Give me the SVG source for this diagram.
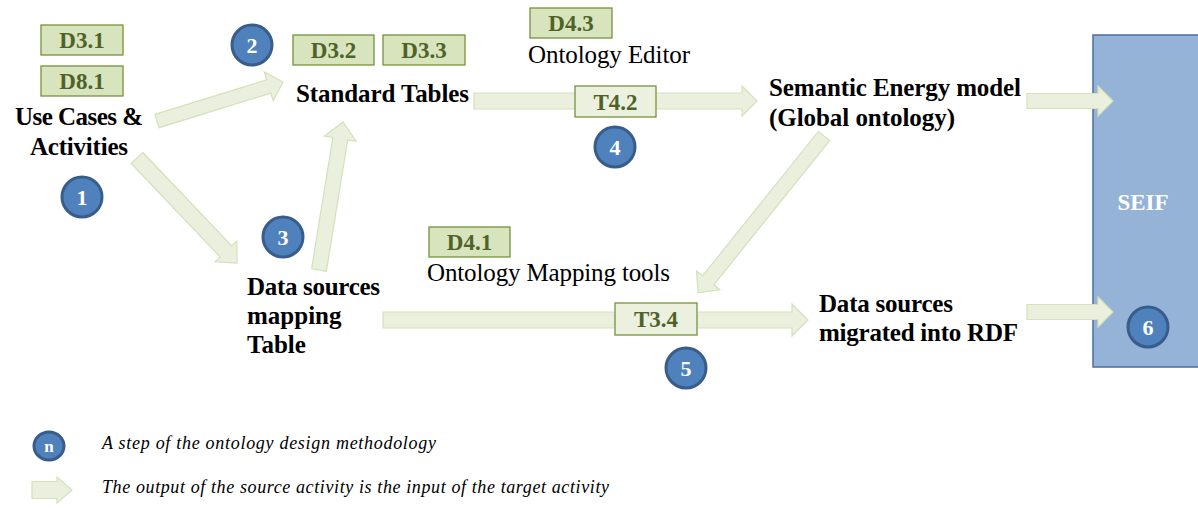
<svg xmlns="http://www.w3.org/2000/svg" width="1198" height="508" viewBox="0 0 1198 508">
<style>
.bt{font-family:'Liberation Serif','Tinos','Times New Roman','DejaVu Serif',serif;font-weight:bold;font-size:25px;fill:#000}
.rt{font-family:'Liberation Serif','Tinos','Times New Roman','DejaVu Serif',serif;font-size:25px;fill:#000}
.lb{fill:#D7E4BD;stroke:#76923C;stroke-width:1.3}
.lbl{fill:#EBF1DE;stroke:#76923C;stroke-width:1.3}
.lt{font-family:'Liberation Serif','Tinos','Times New Roman','DejaVu Serif',serif;font-weight:bold;font-size:23px;fill:#4F6228;text-anchor:middle}
.st{fill:#4F81BD;stroke:#385D8A;stroke-width:3}
.sn{font-family:'Liberation Serif','Tinos','Times New Roman','DejaVu Serif',serif;font-weight:bold;font-size:22px;fill:#fff;text-anchor:middle}
.ar{fill:#EAF0DD;stroke:#D4E1B9;stroke-width:1.2}
.it{font-family:'Liberation Serif','Tinos','Times New Roman','DejaVu Serif',serif;font-style:italic;font-size:18px;fill:#000}
.sf{font-family:'Liberation Serif','Tinos','Times New Roman','DejaVu Serif',serif;font-weight:bold;font-size:23px;fill:#fff;text-anchor:middle}
.nl{font-family:'Liberation Serif','Tinos','Times New Roman','DejaVu Serif',serif;font-weight:bold;font-size:17px;fill:#fff;text-anchor:middle}
</style>
<rect width="1198" height="508" fill="#fff"/>
<g id="seif">
<rect x="1093" y="35" width="110" height="332" fill="#95B3D7" stroke="#4A6FA0" stroke-width="1.5"/>
<text class="sf" x="1143" y="210">SEIF</text>
</g>
<g id="connectors">
<polygon class="ar" transform="translate(157,121) rotate(-17.2)" points="0,-7 117,-7 117,-15 132,0 117,15 117,7 0,7"/>
<polygon class="ar" transform="translate(137,158) rotate(46.4)" points="0,-8 129,-8 129,-15 145,0 129,15 129,8 0,8"/>
<polygon class="ar" transform="translate(319,270) rotate(-80.8)" points="0,-7.5 133,-7.5 133,-16 150,0 133,16 133,7.5 0,7.5"/>
<polygon class="ar" transform="translate(474,101)" points="0,-8 268,-8 268,-15 283,0 268,15 268,8 0,8"/>
<polygon class="ar" transform="translate(1027,101)" points="0,-7.5 71,-7.5 71,-15 86,0 71,15 71,7.5 0,7.5"/>
<polygon class="ar" transform="translate(824,136) rotate(128.75)" points="0,-7.2 185,-7.2 185,-15 201,0 185,15 185,7.2 0,7.2"/>
<polygon class="ar" transform="translate(383,320)" points="0,-8 409,-8 409,-16 425,0 409,16 409,8 0,8"/>
<polygon class="ar" transform="translate(1027,312)" points="0,-7.5 71,-7.5 71,-15 86,0 71,15 71,7.5 0,7.5"/>
</g>
<g id="use-cases">
<rect class="lb" x="41" y="25" width="82" height="30"/>
<text class="lt" x="82" y="48">D3.1</text>
<rect class="lb" x="41" y="66" width="82" height="30"/>
<text class="lt" x="82" y="89">D8.1</text>
<text class="bt" x="15" y="125" textLength="128">Use Cases &amp;</text>
<text class="bt" x="30" y="155" textLength="98">Activities</text>
<circle class="st" cx="82" cy="197" r="20"/>
<text class="sn" x="82" y="205">1</text>
</g>
<g id="standard-tables">
<circle class="st" cx="252" cy="45" r="20"/>
<text class="sn" x="252" y="53">2</text>
<rect class="lb" x="293" y="35" width="81" height="30"/>
<text class="lt" x="333.5" y="58">D3.2</text>
<rect class="lb" x="383" y="35" width="82" height="30"/>
<text class="lt" x="424" y="58">D3.3</text>
<text class="bt" x="296" y="102" textLength="173">Standard Tables</text>
</g>
<g id="data-sources-mapping">
<circle class="st" cx="283" cy="237" r="20"/>
<text class="sn" x="283" y="245">3</text>
<text class="bt" x="247" y="295" textLength="133">Data sources</text>
<text class="bt" x="247" y="324">mapping</text>
<text class="bt" x="247" y="353">Table</text>
</g>
<g id="ontology-editor">
<rect class="lb" x="530" y="8" width="82" height="30"/>
<text class="lt" x="571" y="31">D4.3</text>
<text class="rt" x="528" y="63" textLength="162">Ontology Editor</text>
<rect class="lbl" x="575" y="86" width="81" height="31"/>
<text class="lt" x="615.5" y="110">T4.2</text>
<circle class="st" cx="615" cy="147" r="20"/>
<text class="sn" x="615" y="155">4</text>
</g>
<g id="semantic-model">
<text class="bt" x="769" y="96" textLength="252">Semantic Energy model</text>
<text class="bt" x="769" y="126" textLength="186">(Global ontology)</text>
</g>
<g id="mapping-tools">
<rect class="lb" x="429" y="227" width="81" height="30"/>
<text class="lt" x="469.5" y="250">D4.1</text>
<text class="rt" x="427" y="281" textLength="243">Ontology Mapping tools</text>
<rect class="lbl" x="615" y="303" width="82" height="32"/>
<text class="lt" x="656" y="327">T3.4</text>
<circle class="st" cx="686" cy="368" r="20"/>
<text class="sn" x="686" y="376">5</text>
</g>
<g id="data-sources-rdf">
<text class="bt" x="819" y="312" textLength="134">Data sources</text>
<text class="bt" x="819" y="341" textLength="199">migrated into RDF</text>
</g>
<g id="step-6">
<circle class="st" cx="1148" cy="327" r="20"/>
<text class="sn" x="1148" y="335">6</text>
</g>
<g id="legend">
<ellipse class="st" cx="49" cy="446" rx="15" ry="14"/>
<text class="nl" x="49" y="452">n</text>
<text class="it" x="102" y="449" textLength="334">A step of the ontology design methodology</text>
<polygon class="ar" transform="translate(32,490)" points="0,-8.5 25,-8.5 25,-13 40,0 25,13 25,8.5 0,8.5"/>
<text class="it" x="102" y="493" textLength="507">The output of the source activity is the input of the target activity</text>
</g>
</svg>
